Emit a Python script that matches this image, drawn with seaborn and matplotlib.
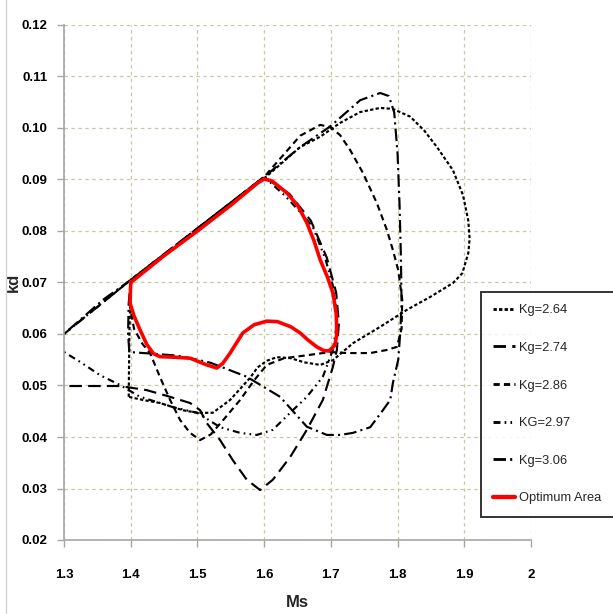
import matplotlib
matplotlib.use("Agg")
import matplotlib.pyplot as plt
import seaborn as sns
import pandas as pd
from matplotlib.lines import Line2D
from matplotlib.patches import Rectangle

# ---------------- data ----------------
kg264_x = [1.397, 1.398, 1.400, 1.450, 1.500, 1.550, 1.600, 1.654, 1.684, 1.714, 1.744, 1.774,
           1.793, 1.819, 1.840, 1.859, 1.883, 1.898, 1.906, 1.908, 1.906, 1.897, 1.883, 1.849, 1.814, 1.774,
           1.733, 1.703, 1.684, 1.660, 1.640, 1.619, 1.604, 1.590, 1.579, 1.549, 1.523, 1.500, 1.478,
           1.444, 1.418, 1.397]
kg264_y = [0.0478, 0.0600, 0.0700, 0.0752, 0.0802, 0.0852, 0.0902, 0.0963, 0.0983, 0.1010, 0.1031, 0.1039,
           0.1037, 0.1022, 0.0995, 0.0963, 0.0918, 0.0870, 0.0820, 0.0785, 0.0757, 0.0718, 0.0699, 0.0672, 0.0647, 0.0614,
           0.0582, 0.0549, 0.0540, 0.0545, 0.0553, 0.0555, 0.0548, 0.0535, 0.0515, 0.0472, 0.0447, 0.0447, 0.0452,
           0.0466, 0.0472, 0.0478]

kg274_x = [1.280, 1.300, 1.384, 1.424, 1.459, 1.489, 1.504, 1.514, 1.534, 1.553, 1.574, 1.594,
           1.613, 1.639, 1.664, 1.688, 1.703, 1.709, 1.712, 1.708, 1.694, 1.670, 1.638, 1.600,
           1.500, 1.400, 1.300, 1.280]
kg274_y = [0.0500, 0.0499, 0.0499, 0.0491, 0.0478, 0.0466, 0.0452, 0.0427, 0.0394, 0.0355, 0.0317, 0.0297,
           0.0317, 0.0361, 0.0414, 0.0472, 0.0536, 0.0569, 0.0620, 0.0680, 0.0748, 0.0820, 0.0872, 0.0905,
           0.0805, 0.0705, 0.0600, 0.0580]

kg286_x = [1.400, 1.398, 1.405, 1.418, 1.429, 1.444, 1.459, 1.474, 1.489, 1.504, 1.520, 1.540,
           1.564, 1.585, 1.604, 1.630, 1.660, 1.699, 1.724, 1.759, 1.784, 1.799, 1.806, 1.807,
           1.801, 1.793, 1.784, 1.769, 1.748, 1.729, 1.714, 1.699, 1.684, 1.654, 1.600, 1.500,
           1.400]
kg286_y = [0.0700, 0.0660, 0.0610, 0.0580, 0.0563, 0.0516, 0.0472, 0.0433, 0.0408, 0.0394, 0.0405, 0.0435,
           0.0472, 0.0510, 0.0540, 0.0553, 0.0558, 0.0565, 0.0563, 0.0563, 0.0569, 0.0575, 0.0610, 0.0666,
           0.0724, 0.0763, 0.0802, 0.0854, 0.0913, 0.0957, 0.0986, 0.1002, 0.1006, 0.0985, 0.0905, 0.0805,
           0.0700]

kg297_x = [1.280, 1.300, 1.324, 1.354, 1.384, 1.414, 1.444, 1.463, 1.493, 1.500, 1.534, 1.564,
           1.589, 1.613, 1.639, 1.664, 1.688, 1.703, 1.709, 1.706, 1.692, 1.673, 1.654, 1.630,
           1.600, 1.500, 1.400, 1.300, 1.280]
kg297_y = [0.0585, 0.0565, 0.0546, 0.0520, 0.0501, 0.0478, 0.0466, 0.0458, 0.0449, 0.0447, 0.0419, 0.0408,
           0.0404, 0.0414, 0.0447, 0.0478, 0.0517, 0.0569, 0.0620, 0.0680, 0.0745, 0.0808, 0.0837, 0.0870,
           0.0905, 0.0805, 0.0705, 0.0600, 0.0585]

kg306_x = [1.280, 1.300, 1.358, 1.400, 1.500, 1.600, 1.654, 1.699, 1.744, 1.774, 1.787, 1.795,
           1.800, 1.803, 1.805, 1.806, 1.804, 1.801, 1.793, 1.789, 1.778, 1.759, 1.733, 1.714,
           1.694, 1.664, 1.624, 1.574, 1.520, 1.500, 1.470, 1.430, 1.398, 1.396, 1.397, 1.400]
kg306_y = [0.0580, 0.0600, 0.0666, 0.0705, 0.0805, 0.0905, 0.0963, 0.1003, 0.1054, 0.1068, 0.1062, 0.1030,
           0.0950, 0.0850, 0.0750, 0.0660, 0.0602, 0.0550, 0.0505, 0.0472, 0.0452, 0.0419, 0.0408, 0.0404,
           0.0404, 0.0420, 0.0478, 0.0517, 0.0544, 0.0550, 0.0558, 0.0562, 0.0565, 0.0600, 0.0660, 0.0700]

opt_x = [1.400, 1.450, 1.500, 1.550, 1.590, 1.600, 1.612, 1.634, 1.650, 1.664, 1.675, 1.684, 1.695, 1.703,
         1.708, 1.709, 1.706, 1.697, 1.689, 1.679, 1.666, 1.654, 1.640, 1.620, 1.604, 1.585, 1.568, 1.549,
         1.538, 1.529, 1.514, 1.489, 1.465, 1.444, 1.434, 1.424, 1.414, 1.405, 1.399, 1.400]
opt_y = [0.0700, 0.0752, 0.0800, 0.0850, 0.0893, 0.0901, 0.0897, 0.0874, 0.0850, 0.0816, 0.0780, 0.0744, 0.0710, 0.0680,
         0.0640, 0.0600, 0.0578, 0.0567, 0.0568, 0.0575, 0.0588, 0.0602, 0.0614, 0.0624, 0.0625, 0.0618, 0.0602, 0.0563,
         0.0543, 0.0534, 0.0540, 0.0553, 0.0555, 0.0556, 0.0562, 0.0580, 0.0608, 0.0635, 0.0660, 0.0700]

labels = ["Kg=2.64", "Kg=2.74", "Kg=2.86", "KG=2.97", "Kg=3.06", "Optimum Area"]
x_ticks = [1.3, 1.4, 1.5, 1.6, 1.7, 1.8, 1.9, 2.0]
x_ticklabels = ["1.3", "1.4", "1.5", "1.6", "1.7", "1.8", "1.9", "2"]
y_ticks = [0.02, 0.03, 0.04, 0.05, 0.06, 0.07, 0.08, 0.09, 0.10, 0.11, 0.12]
y_ticklabels = ["0.02", "0.03", "0.04", "0.05", "0.06", "0.07", "0.08", "0.09", "0.10", "0.11", "0.12"]

# ---------------- style ----------------
sns.set_style("white")
plt.rcParams['font.family'] = ['Liberation Sans', 'DejaVu Sans']
plt.rcParams['lines.scale_dashes'] = False

fig = plt.figure(figsize=(6.13, 6.14), dpi=100)
ax = fig.add_axes([64 / 613, 1 - 540 / 614, (531 - 64) / 613, (540 - 25) / 614])

series = [
    (kg264_x, kg264_y, labels[0], "black", 1.55, (0, (2.4, 1.6))),
    (kg274_x, kg274_y, labels[1], "black", 1.55, (0, (9, 4.5))),
    (kg286_x, kg286_y, labels[2], "black", 1.55, (0, (4.5, 3))),
    (kg297_x, kg297_y, labels[3], "black", 1.55, (0, (5, 3, 1.2, 3, 1.2, 3))),
    (kg306_x, kg306_y, labels[4], "black", 1.55, (0, (9, 3, 1.5, 3))),
    (opt_x, opt_y, labels[5], "#ff0000", 2.6, "-"),
]

handles = []
for xs, ys, lab, col, lw, ls in series:
    df = pd.DataFrame({"Ms": xs, "kd": ys})
    sns.lineplot(data=df, x="Ms", y="kd", sort=False, estimator=None, ax=ax,
                 color=col, linewidth=lw, legend=False)
    ln = ax.lines[-1]
    ln.set_linestyle(ls)
    ln.set_solid_joinstyle("round")
    ln.set_dash_joinstyle("round")
    handles.append(Line2D([0], [0], color=col, lw=lw + 0.5, linestyle=ls, label=lab))

ax.set_xlim(1.3, 2.0)
ax.set_ylim(0.02, 0.12)
ax.set_xticks(x_ticks)
ax.set_xticklabels(x_ticklabels, fontsize=9.5, fontweight="bold")
ax.set_yticks(y_ticks)
ax.set_yticklabels(y_ticklabels, fontsize=9.5, fontweight="bold")

grid_col = "#cdc6a6"
ax.grid(True, color=grid_col, linestyle=(0, (2.5, 2.5)), linewidth=0.9)
ax.set_axisbelow(True)
for s in ["top", "right"]:
    ax.spines[s].set_visible(False)
for s in ["left", "bottom"]:
    ax.spines[s].set_color("#a6a6a6")
    ax.spines[s].set_linewidth(1.2)
ax.tick_params(axis="both", direction="out", length=5, width=1, color="#a6a6a6",
               labelcolor="black", left=True, bottom=True)
ax.tick_params(axis="x", pad=16)
ax.tick_params(axis="y", pad=7)

ax.set_xlabel("Ms", fontsize=12, fontweight="bold", labelpad=10)
ax.set_ylabel("kd", fontsize=12, fontweight="bold", labelpad=0)

leg = fig.legend(handles=handles, loc="upper left",
                 bbox_to_anchor=(481 / 613, 1 - 292 / 614), bbox_transform=fig.transFigure,
                 frameon=True, fancybox=False, fontsize=9.3, handlelength=1.7,
                 handletextpad=0.3, labelspacing=1.98, borderpad=0.95, borderaxespad=0)
leg.get_frame().set_edgecolor("black")
leg.get_frame().set_linewidth(1.4)
leg.get_frame().set_facecolor("white")

# light outer chart border on the left
fig.add_artist(Rectangle((6 / 613, -0.01), 1.2, 1.02, transform=fig.transFigure,
                         fill=False, edgecolor="#d4d4d4", linewidth=1.0))

fig.savefig("out.png", dpi=100)
